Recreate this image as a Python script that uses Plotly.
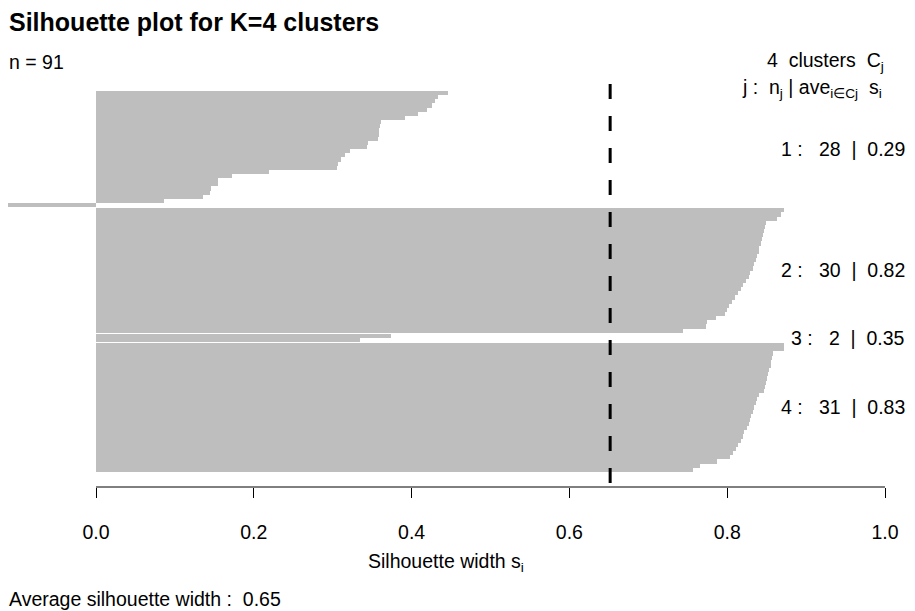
import plotly.graph_objects as go

# ---------------- data (silhouette widths, sorted within each cluster) ----------------
cluster1 = [0.446, 0.433, 0.430, 0.426, 0.419, 0.408, 0.392, 0.361, 0.3605, 0.359,
            0.3587, 0.357, 0.345, 0.344, 0.322, 0.316, 0.3105, 0.3063, 0.3058, 0.2196,
            0.1728, 0.1546, 0.1542, 0.1458, 0.1445, 0.135, 0.0864, -0.111]
cluster2 = [0.872, 0.8678, 0.8635, 0.8492, 0.8479, 0.8466, 0.8454, 0.8441, 0.8428, 0.8409,
            0.8397, 0.8378, 0.8359, 0.834, 0.8321, 0.8295, 0.827, 0.8238, 0.8206, 0.8169,
            0.8137, 0.8099, 0.8067, 0.8029, 0.7997, 0.7972, 0.7858, 0.774, 0.7735, 0.7444]
cluster3 = [0.374, 0.334]
cluster4 = [0.872, 0.8715, 0.8584, 0.8574, 0.8561, 0.8549, 0.8536, 0.8523, 0.851, 0.8498,
            0.8485, 0.8466, 0.8397, 0.8378, 0.8359, 0.834, 0.8321, 0.8302, 0.8289, 0.827,
            0.8245, 0.8213, 0.8194, 0.8175, 0.8143, 0.8112, 0.8074, 0.8036, 0.7867, 0.7655,
            0.7563]
cluster_ids = [1, 2, 3, 4]
x_ticks = [0.0, 0.2, 0.4, 0.6, 0.8, 1.0]
x_tick_labels = ["0.0", "0.2", "0.4", "0.6", "0.8", "1.0"]

clusters = [cluster1, cluster2, cluster3, cluster4]

# ---------------- geometry (reference pixel coords; page has an 8px body margin) ----------------
W, H = 915, 611
OFF = 8
PX0, PX_PER = 96, 789          # reference pixel of x=0 and pixels per unit
ref_left, ref_right = 8, 911
ref_top, ref_bottom = 84, 487
pitch, first_top, gap = 4.15, 91, 0.25

xr = [(ref_left - PX0) / PX_PER, (ref_right - PX0) / PX_PER]
yr = [(ref_bottom - first_top) / pitch, (ref_top - first_top) / pitch]

ys, xs, mids = [], [], []
pos = 0.0
for vals in clusters:
    start = pos
    for v in vals:
        ys.append(pos + 0.5)
        xs.append(v)
        pos += 1
    mids.append((start + pos) / 2)
    pos += gap

all_vals = [v for c in clusters for v in c]
overall = sum(all_vals) / len(all_vals)
n_total = len(all_vals)

FONT = "Liberation Sans, Arial, sans-serif"
NB = "\u00a0"
BASE = 19.5

fig = go.Figure()
fig.add_trace(go.Bar(x=xs, y=ys, orientation="h", width=1.02,
                     marker=dict(color="#bebebe", line=dict(width=0)),
                     hoverinfo="skip", showlegend=False))


def px2paper(px, py):
    return ((px - ref_left) / (ref_right - ref_left),
            (ref_bottom - py) / (ref_bottom - ref_top))


anns = []


def ann(px, py, text, size, xanchor="left", bold=False):
    x, y = px2paper(px, py)
    if bold:
        text = "<b>" + text + "</b>"
    anns.append(dict(x=x, y=y, xref="paper", yref="paper", text=text, showarrow=False,
                     xanchor=xanchor, yanchor="middle",
                     font=dict(family=FONT, size=size, color="black")))


ann(7, 22, "Silhouette plot for K=4 clusters", 25, bold=True)
ann(7, 62, f"n = {n_total}", BASE)
ann(886, 62, f"{len(clusters)}{NB*2}clusters{NB*2}C<sub>j</sub>", BASE, xanchor="right")
ann(884, 88, f"j :{NB*2}n<sub>j</sub> | ave<sub>i\u2208Cj</sub>{NB*2}s<sub>i</sub>", BASE,
    xanchor="right")
ann(446, 562, "Silhouette width s<sub>i</sub>", BASE, xanchor="center")
ann(7, 599, f"Average silhouette width :{NB*2}{overall:.2f}", BASE)

for cid, vals, m in zip(cluster_ids, clusters, mids):
    avg = sum(vals) / len(vals)
    txt = f"{cid} :{NB*3}{len(vals)}{NB*2}|{NB*2}{avg:.2f}"
    x, _ = px2paper(907, 0)
    anns.append(dict(x=x, y=m, xref="paper", yref="y", text=txt, showarrow=False,
                     xanchor="right", yanchor="middle",
                     font=dict(family=FONT, size=BASE, color="black")))

shapes = [
    dict(type="line", xref="x", yref="paper", x0=0, x1=1, y0=0, y1=0,
         line=dict(color="black", width=1)),
    dict(type="line", xref="x", yref="paper", x0=overall, x1=overall, y0=1, y1=0,
         line=dict(color="black", width=3, dash="15px,17px")),
]

fig.update_layout(
    width=W, height=H,
    margin=dict(l=ref_left - OFF, r=W - (ref_right - OFF), t=ref_top - OFF,
                b=H - (ref_bottom - OFF), pad=0),
    paper_bgcolor="white", plot_bgcolor="white",
    bargap=0,
    font=dict(family=FONT, size=BASE, color="black"),
    xaxis=dict(range=xr, tickvals=x_ticks, ticktext=x_tick_labels,
               ticks="outside", ticklen=10, tickwidth=1, tickcolor="black",
               showline=False, showgrid=False, zeroline=False,
               ticklabelstandoff=18,
               tickfont=dict(family=FONT, size=BASE, color="black")),
    yaxis=dict(range=yr, visible=False, showgrid=False, zeroline=False),
    annotations=anns, shapes=shapes,
)

fig.write_html("out.html")
